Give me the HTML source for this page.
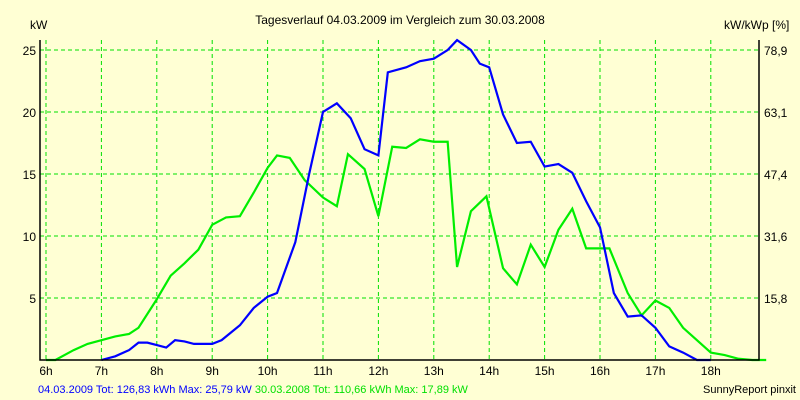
<!DOCTYPE html>
<html><head><meta charset="utf-8"><style>
body{margin:0;background:#ffffd4;}
svg{display:block;font-family:"Liberation Sans",sans-serif;}
</style></head><body>
<svg width="800" height="400" id="c">
<rect width="800" height="400" fill="#ffffd4"/>
<text x="400" y="24" font-size="12" text-anchor="middle">Tagesverlauf 04.03.2009 im Vergleich zum 30.03.2008</text>
<text x="30" y="29" font-size="12">kW</text>
<text x="724" y="29" font-size="12">kW/kWp [%]</text>
<g id="grid"></g><g id="lines"></g><g id="axes"></g>
<text x="38" y="393" font-size="11" fill="#0000ff">04.03.2009 Tot: 126,83 kWh Max: 25,79 kW <tspan fill="#00e000">30.03.2008 Tot: 110,66 kWh Max: 17,89 kW</tspan></text>
<text x="796" y="393" font-size="11" text-anchor="end">SunnyReport pinxit</text>
</svg>
<script>
const hourTicks=[6,7,8,9,10,11,12,13,14,15,16,17,18];
const yTicks=[5,10,15,20,25];
const y2Labels=["15,8","31,6","47,4","63,1","78,9"];
const t2009=[7,7.25,7.5,7.67,7.83,8,8.17,8.33,8.5,8.67,9,9.17,9.5,9.75,10,10.17,10.5,10.75,11,11.25,11.5,11.75,12,12.17,12.5,12.75,13,13.25,13.42,13.67,13.83,14,14.25,14.5,14.75,15,15.25,15.5,15.75,16,16.25,16.5,16.75,17,17.25,17.5,17.75,18];
const v2009=[0,0.3,0.8,1.4,1.4,1.2,1.0,1.6,1.5,1.3,1.3,1.6,2.8,4.2,5.1,5.4,9.5,15,20.0,20.7,19.5,17.0,16.5,23.2,23.6,24.1,24.3,25.0,25.8,25.0,23.9,23.6,19.8,17.5,17.6,15.6,15.8,15.1,12.8,10.7,5.4,3.5,3.6,2.6,1.1,0.6,0,0];
const t2008=[6,6.17,6.5,6.75,7,7.25,7.5,7.67,8,8.25,8.5,8.75,9,9.25,9.5,9.75,10,10.17,10.4,10.67,11,11.25,11.45,11.75,12,12.25,12.5,12.75,13,13.25,13.42,13.67,13.95,14.25,14.5,14.75,15,15.25,15.5,15.75,16,16.17,16.5,16.75,17,17.25,17.5,17.75,18,18.25,18.5,18.75,19];
const v2008=[0,0,0.8,1.3,1.6,1.9,2.1,2.6,4.9,6.8,7.8,8.9,10.9,11.5,11.6,13.5,15.5,16.5,16.3,14.5,13.1,12.4,16.6,15.4,11.6,17.2,17.1,17.8,17.6,17.6,7.5,12.0,13.2,7.4,6.1,9.3,7.5,10.5,12.2,9.0,9.0,9.0,5.4,3.6,4.8,4.2,2.6,1.6,0.6,0.4,0.1,0,0];
const L=40,R=759,T=40,B=360;
const xs=h=>46+(h-6)*55.4;
const ys=v=>B-v*12.4;
const NS="http://www.w3.org/2000/svg";
function mk(tag,attrs,parent){const e=document.createElementNS(NS,tag);for(const k in attrs)e.setAttribute(k,attrs[k]);document.getElementById(parent).appendChild(e);return e;}
hourTicks.forEach(h=>{
 const l=mk('line',{x1:xs(h),x2:xs(h),y1:T,y2:B,stroke:'#00e000','stroke-dasharray':'4,3'},'grid');
 
 
 const t=mk('text',{x:xs(h),y:375,'font-size':12,'text-anchor':'middle'},'axes');t.textContent=h+'h';
 
 
});
yTicks.forEach((v,i)=>{
 const l=mk('line',{x1:L,x2:R,y1:ys(v),y2:ys(v),stroke:'#00e000','stroke-dasharray':'4,3'},'grid');
 
 
 const t=mk('text',{x:36,y:ys(v)+5,'font-size':12,'text-anchor':'end'},'axes');t.textContent=v;
 
 
 const t2=mk('text',{x:764,y:ys(v)+5,'font-size':12},'axes');t2.textContent=y2Labels[i];
 
 
});
const ax=mk('path',{d:`M${L},${T}V${B}H${R}V${T}`,fill:'none',stroke:'#000','stroke-width':1.5},'axes');


const g=mk('polyline',{points:t2008.map((t,i)=>xs(t)+','+ys(v2008[i])).join(' '),fill:'none',stroke:'#00ee00','stroke-width':2.2},'lines');


const b=mk('polyline',{points:t2009.map((t,i)=>xs(t)+','+ys(v2009[i])).join(' '),fill:'none',stroke:'#0000ff','stroke-width':2.2},'lines');


</script>
</body></html>
